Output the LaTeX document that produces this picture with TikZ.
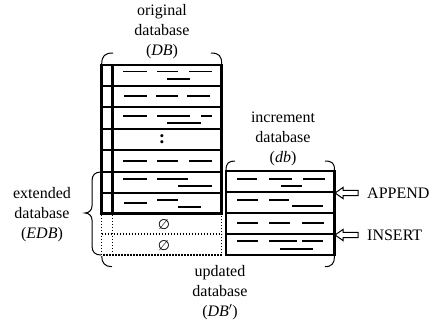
\documentclass[tikz,border=0pt]{standalone}
\usepackage{fontspec}
\setmainfont{Liberation Serif}
\newfontfamily\symfont{DejaVu Sans}
\usetikzlibrary{shapes.arrows}

\begin{document}
\begin{tikzpicture}[
    x=1pt, y=-1pt,
    font=\fontsize{16}{20}\selectfont,
    frame/.style={line width=2.6pt},
    txt/.style={line width=1.1pt},
    ghost/.style={line width=1.4pt, dash pattern=on 1.4pt off 1.6pt},
    curl/.style={line width=1pt},
    lbl/.style={align=center, inner sep=0pt},
    push/.style={single arrow, draw, line width=1pt, shape border rotate=180,
        minimum height=23pt, minimum width=10pt, inner xsep=0pt, inner ysep=2.2pt,
        single arrow head extend=3pt, single arrow tip angle=70},
]
\useasboundingbox (0,0) rectangle (433,322);

% ================= original database =================
\draw[frame] (101.7,65) rectangle (221.7,213.3);
\draw[frame] (112.3,65) -- (112.3,213.3);
\foreach \yy in {86,107,129,150,172,193}
    \draw[frame] (101.7,\yy) -- (221.7,\yy);

% empty slots
\draw[ghost] (101.7,214.6) -- (101.7,255) -- (221.7,255) -- (221.7,214.6);
\draw[ghost] (112.3,214.6) -- (112.3,255);
\draw[ghost] (101.7,234) -- (221.7,234);
\node (nil1) at (164,224.5) {\symfont\fontsize{14}{14}\selectfont ∅};
\node (nil2) at (164,245.5) {\symfont\fontsize{14}{14}\selectfont ∅};
\node (dots) at (162,139) {\fontsize{19}{19}\selectfont\textbf{:}};

% ================= increment database =================
\draw[frame] (226,171) rectangle (334.5,255);
\foreach \yy in {192,213,234}
    \draw[frame] (226,\yy) -- (334.5,\yy);

% records
\foreach \xa/\xb/\yy in {
    123/147/71.7, 157/178/71.7, 189/212/71.7, 167/190/79,
    124/147/96, 156/178/96, 187/210/96,
    123/147/116, 157/190/116, 201/212/116, 167/201/123,
    123/147/161, 157/178/161, 189/212/161,
    123/147/179, 157/188/179, 178/212/186,
    124/147/203, 157/178/200, 178/201/207,
    237/257/179, 269/292/179, 303/325/179, 281/302/186,
    237/258/200, 269/289/200, 292/323/206,
    237/258/223, 269/290/223, 302/324/223,
    237/258/241, 269/297/241, 302/323/241, 280/313/249}
    \draw[txt] (\xa,\yy) -- (\xb,\yy);

% ================= brackets =================
\draw[curl] (101.7,64) .. controls (101.7,56) and (105,53) .. (113,53);
\draw[curl] (211,53) .. controls (219,53) and (221.7,56) .. (221.7,64);
\draw[curl] (226,170) .. controls (226,163) and (229,161) .. (235,161);
\draw[curl] (325,161) .. controls (332,161) and (334.5,163) .. (334.5,170);
\draw[curl] (101.7,256) .. controls (101.7,263) and (105,266.7) .. (112,266.7);
\draw[curl] (325,266.7) .. controls (332,266.7) and (334.5,263) .. (334.5,256);
\draw[curl] (101,172) .. controls (95,172) and (92,175) .. (92,181) -- (92,206)
    .. controls (92,210) and (89,213) .. (85,213)
    .. controls (89,213) and (92,216) .. (92,220) -- (92,246)
    .. controls (92,252) and (95,255) .. (101,255);

% ================= labels =================
\node[lbl] (orig) at (162,32) {original\\database\\(\textit{DB})};
\node[lbl] (incr) at (283,139) {increment\\database\\(\textit{db})};
\node[lbl] (ext) at (42,215) {extended\\database\\(\textit{EDB})};
\node[lbl] (upd) at (220,293) {updated\\database\\(\textit{DB}$'$)};

\node[push] (app) at (348.5,193) {};
\node[anchor=west, inner sep=0pt] (applbl) at (367,193) {APPEND};
\node[push] (ins) at (348.5,235) {};
\node[anchor=west, inner sep=0pt] (inslbl) at (367,235) {INSERT};

\end{tikzpicture}
\end{document}
